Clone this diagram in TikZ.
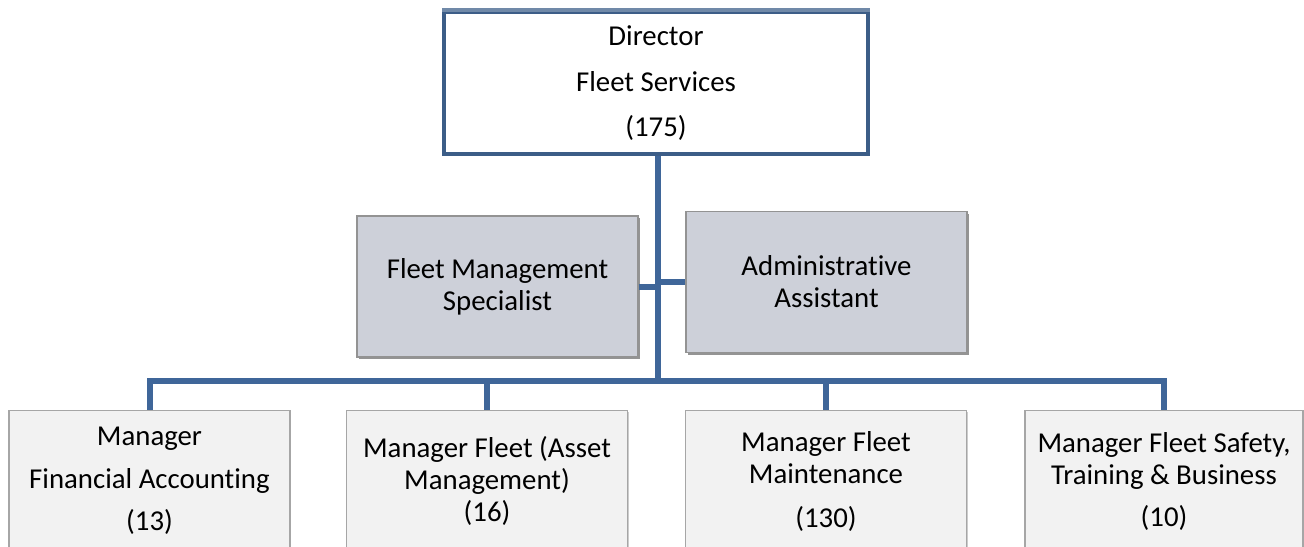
\documentclass[tikz,border=0pt]{standalone}
\usepackage{fontspec}
\setmainfont{Carlito}[Ligatures={NoCommon}]
\usetikzlibrary{shadows}
\definecolor{linkblue}{HTML}{3F6699}
\definecolor{headblue}{HTML}{3C5D87}
\definecolor{headtop}{HTML}{7089A8}
\definecolor{staffgray}{HTML}{CDD0D9}
\definecolor{mgrgray}{HTML}{F2F2F2}

\begin{document}
\begin{tikzpicture}[x=0.5pt, y=-0.5pt, every node/.style={rectangle, align=center,
						inner sep=0pt, font=\fontsize{14.4}{16}\selectfont},
			head/.style={draw=headblue, line width=2pt, fill=white, minimum width=212pt, minimum height=71pt},
			staff/.style={draw=gray!85, line width=0.6pt, fill=staffgray, minimum width=140.5pt, minimum height=70.5pt,
						drop shadow={shadow xshift=0.8pt, shadow yshift=-1.2pt, fill=black!60, opacity=0.7}},
			mgr/.style={draw=gray!70, line width=0.6pt, fill=mgrgray, minimum width=140.5pt, minimum height=70.5pt,
						drop shadow={shadow xshift=0.7pt, shadow yshift=-0.7pt, fill=black!40, opacity=0.5}},
			link/.style={draw=linkblue, line width=3pt}]
			\useasboundingbox (0,0) rectangle (1304,546);
			\clip (0,0) rectangle (1304,546);

			\node[head] (dir) at (656,83) {Director\\[7pt]Fleet Services\\[6.5pt](175)};
			\draw[headtop, line width=2pt] (dir.north west) -- (dir.north east);

			\node[staff] (fms) at (497.5,286.5) {Fleet Management\\Specialist};
			\node[staff] (asst) at (826.5,282) {Administrative\\Assistant};

			\node[mgr] (fin) at (149.5,481) {Manager\\[5.5pt]Financial Accounting\\[5pt](13)};
			\node[mgr] (asset) at (487,481) {Manager Fleet (Asset\\Management)\\(16)};
			\node[mgr] (maint) at (826,481) {Manager Fleet\\Maintenance\\[6pt](130)};
			\node[mgr, minimum width=139pt] (safety) at (1164,481) {Manager Fleet Safety,\\Training \& Business\\[5pt](10)};

			\coordinate (bus) at (658,381);
			\draw[link] (dir.south -| bus) -- (bus);
			\draw[link] (fms.east) -- (fms.east -| bus);
			\draw[link] (asst.west) -- (asst.west -| bus);
			\draw[link] (fin.north) |- (bus) -| (safety.north);
			\draw[link] (asset.north) -- (asset.north |- bus);
			\draw[link] (maint.north) -- (maint.north |- bus);
		\end{tikzpicture}
\end{document}
